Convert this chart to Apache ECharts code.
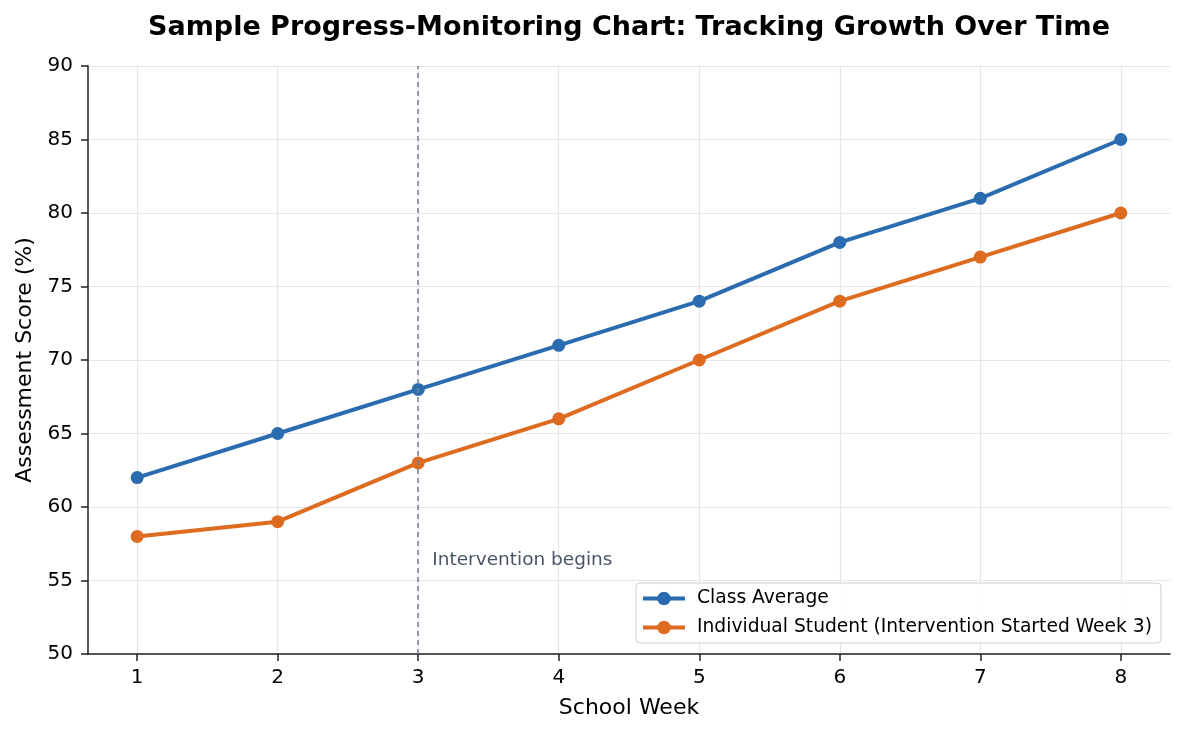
<!DOCTYPE html>
<html>
<head>
<meta charset="utf-8">
<script src="https://cdn.jsdelivr.net/npm/echarts@6/dist/echarts.min.js"></script>
<style>
  html, body { margin: 0; padding: 0; background: #fff; }
  #chart { width: 1185px; height: 735px; }
</style>
</head>
<body>
<div id="chart"></div>
<script>
var weeks = [1, 2, 3, 4, 5, 6, 7, 8];
var classAverage = [62, 65, 68, 71, 74, 78, 81, 85];
var studentScores = [58, 59, 63, 66, 70, 74, 77, 80];
var yTicks = [50, 55, 60, 65, 70, 75, 80, 85, 90];
var interventionWeek = 3;

var font = 'DejaVu Sans';
var blue = '#2b6cb0';
var orange = '#dd6b20';

function pairs(xs, ys) {
  return xs.map(function (x, i) { return [x, ys[i]]; });
}

var chart = echarts.init(document.getElementById('chart'), null, { renderer: 'canvas' });

var option = {
  animation: false,
  backgroundColor: '#fff',
  title: {
    text: 'Sample Progress-Monitoring Chart: Tracking Growth Over Time',
    left: 624,
    top: 9,
    textAlign: 'center',
    textStyle: { fontFamily: font, fontSize: 27, fontWeight: 'bold', color: '#000' }
  },
  grid: { left: 88, right: 15, top: 66, bottom: 81 },
  legend: {
    orient: 'vertical',
    right: 24,
    bottom: 92,
    itemWidth: 42,
    itemHeight: 17,
    itemGap: 10,
    padding: [6, 9, 6, 5],
    backgroundColor: 'rgba(255,255,255,0.85)',
    borderColor: '#d0d0d0',
    borderWidth: 1,
    borderRadius: 4,
    lineStyle: { width: 4 },
    textStyle: { fontFamily: font, fontSize: 18.7, color: '#000', padding: [0, 0, 0, 7] },
    data: ['Class Average', 'Individual Student (Intervention Started Week 3)']
  },
  xAxis: {
    type: 'value',
    min: 0.65,
    max: 8.35,
    name: 'School Week',
    nameLocation: 'middle',
    nameGap: 43,
    nameTextStyle: { fontFamily: font, fontSize: 22, color: '#000' },
    axisLine: { show: true, lineStyle: { color: '#222', width: 1.5 } },
    axisTick: { show: true, length: 7, customValues: weeks, lineStyle: { color: '#222', width: 1.5 } },
    axisLabel: { customValues: weeks, fontFamily: font, fontSize: 20, color: '#000', margin: 14 },
    splitLine: { show: true, lineStyle: { color: '#e6e6e6', width: 1.2 } }
  },
  yAxis: {
    type: 'value',
    min: yTicks[0],
    max: yTicks[yTicks.length - 1],
    interval: yTicks[1] - yTicks[0],
    name: 'Assessment Score (%)',
    nameLocation: 'middle',
    nameGap: 48,
    nameTextStyle: { fontFamily: font, fontSize: 22, color: '#000' },
    axisLine: { show: true, lineStyle: { color: '#222', width: 1.5 } },
    axisTick: { show: true, length: 7, lineStyle: { color: '#222', width: 1.5 } },
    axisLabel: { fontFamily: font, fontSize: 20, color: '#000', margin: 15 },
    splitLine: { show: true, lineStyle: { color: '#e6e6e6', width: 1.2 } }
  },
  series: [
    {
      name: 'Class Average',
      type: 'line',
      data: pairs(weeks, classAverage),
      symbol: 'circle',
      symbolSize: 13,
      z: 3,
      itemStyle: { color: blue },
      lineStyle: { color: blue, width: 4 },
      markLine: {
        silent: true,
        symbol: ['none', 'none'],
        label: { show: false },
        lineStyle: { color: '#718096', type: [5, 4], width: 1.5 },
        data: [{ xAxis: interventionWeek }]
      },
      markPoint: {
        silent: true,
        symbol: 'circle',
        symbolSize: 0,
        data: [{ coord: [interventionWeek + 0.1, 56.4] }],
        label: {
          show: true,
          position: 'right',
          distance: 0,
          formatter: 'Intervention begins',
          fontFamily: font,
          fontSize: 18.5,
          color: '#4a5568'
        }
      }
    },
    {
      name: 'Individual Student (Intervention Started Week 3)',
      type: 'line',
      data: pairs(weeks, studentScores),
      symbol: 'circle',
      symbolSize: 13,
      z: 3,
      itemStyle: { color: orange },
      lineStyle: { color: orange, width: 4 }
    }
  ]
};

chart.setOption(option);
</script>
</body>
</html>
